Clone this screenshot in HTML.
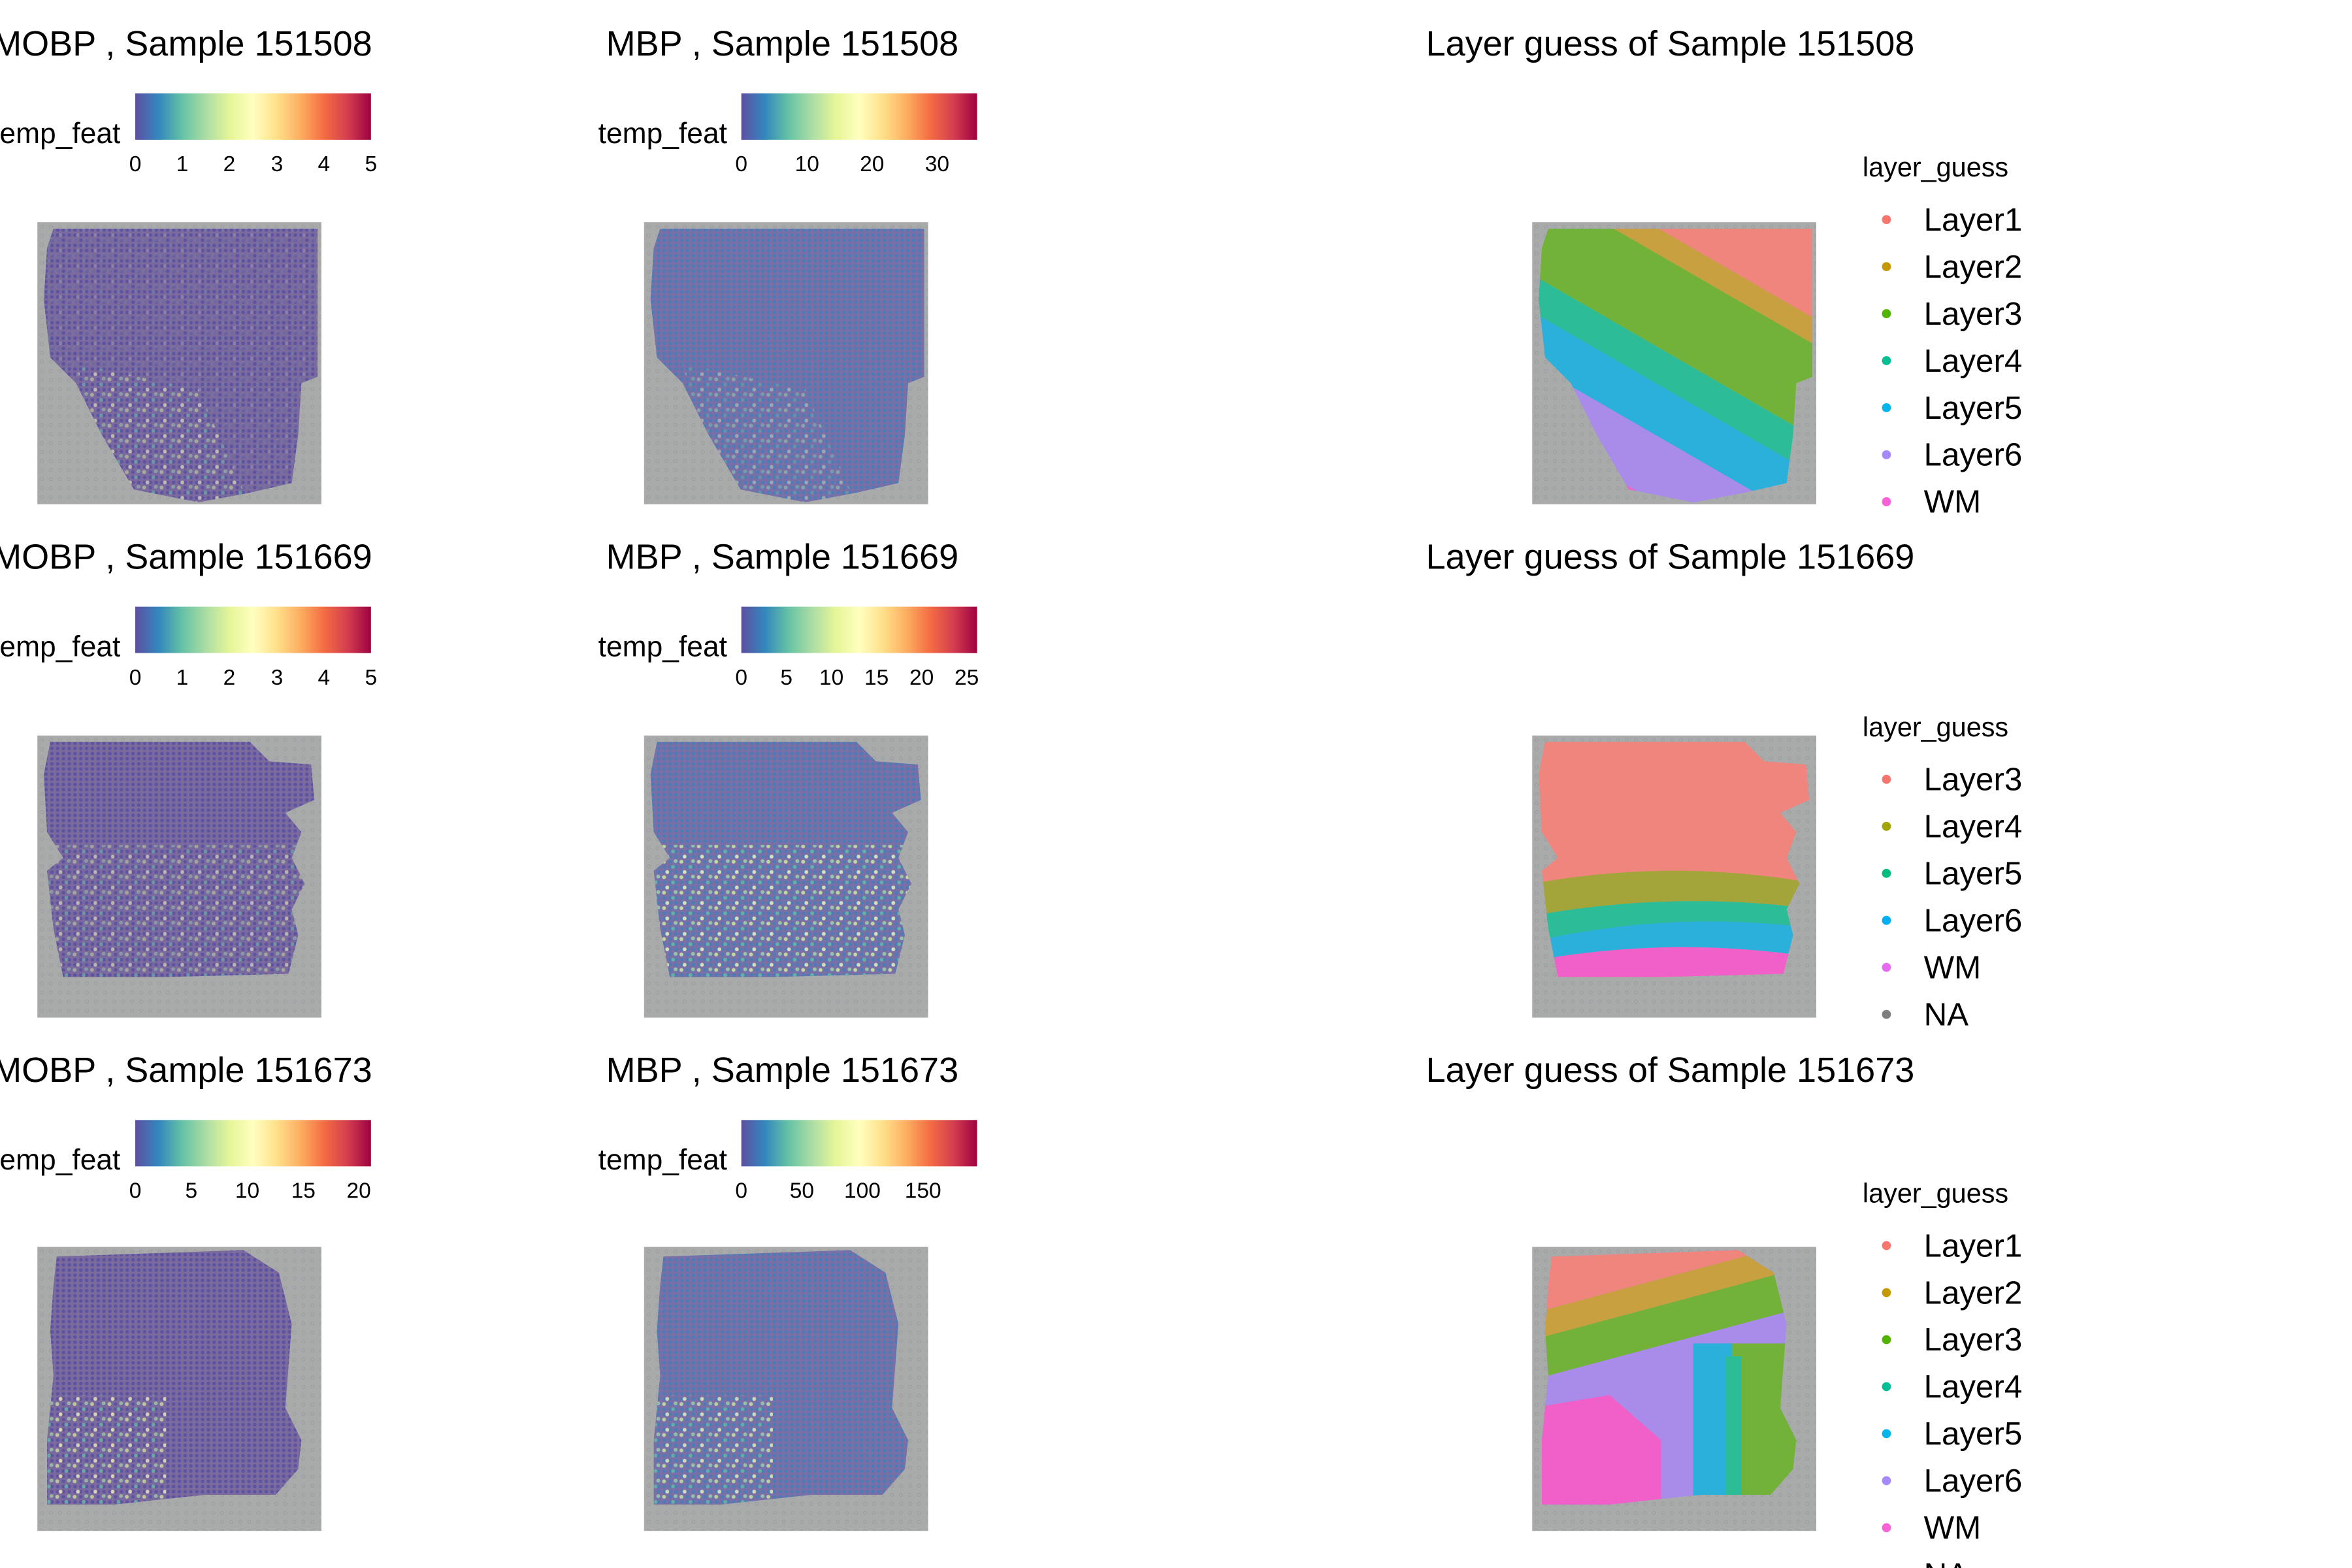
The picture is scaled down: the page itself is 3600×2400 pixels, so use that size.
<!DOCTYPE html>
<html><head><meta charset="utf-8"><style>
html,body{margin:0;padding:0;background:#fff}
svg{display:block}
text{font-family:"Liberation Sans",Arial,sans-serif;fill:#000}
</style></head><body>
<svg width="3600" height="2400" viewBox="0 0 3600 2400" xmlns="http://www.w3.org/2000/svg">
<defs>
<linearGradient id="spec" x1="0" x2="1" y1="0" y2="0">
<stop offset="0" stop-color="#5E4FA2"/><stop offset="0.1" stop-color="#3288BD"/><stop offset="0.2" stop-color="#66C2A5"/><stop offset="0.3" stop-color="#ABDDA4"/><stop offset="0.4" stop-color="#E6F598"/><stop offset="0.5" stop-color="#FFFFBF"/><stop offset="0.6" stop-color="#FEE08B"/><stop offset="0.7" stop-color="#FDAE61"/><stop offset="0.8" stop-color="#F46D43"/><stop offset="0.9" stop-color="#D53E4F"/><stop offset="1" stop-color="#9E0142"/>
</linearGradient>
<pattern id="dots" width="9" height="8" patternUnits="userSpaceOnUse"><rect width="9" height="8" fill="#7a6a9e"/><circle cx="4.5" cy="4" r="2.8" fill="#5e52a2"/></pattern>
<pattern id="dotsB" width="9" height="8" patternUnits="userSpaceOnUse"><rect width="9" height="8" fill="#7a6fa6"/><circle cx="4.5" cy="4" r="2.8" fill="#4c7cb6"/></pattern>
<pattern id="speck" width="27" height="24" patternUnits="userSpaceOnUse"><circle cx="4" cy="4" r="3" fill="#E6F598"/><circle cx="18" cy="12" r="3" fill="#66C2A5"/><circle cx="9" cy="20" r="3" fill="#FFFFBF"/><circle cx="22" cy="3" r="3" fill="#ABDDA4"/></pattern>
<pattern id="bg" width="14" height="14" patternUnits="userSpaceOnUse"><rect width="14" height="14" fill="#a9abab"/><circle cx="7" cy="7" r="2.5" fill="none" stroke="#9a9aa0" stroke-width="1"/></pattern>
<clipPath id="t1"><path d="M25,10 L435,10 L435,240 L410,250 L405,330 L395,405 L330,420 L250,435 L150,415 L100,330 L60,250 L20,210 L10,120 L15,40 Z"/></clipPath>
<clipPath id="t2"><path d="M20,10 L330,10 L360,40 L425,45 L430,100 L385,120 L410,150 L395,190 L415,230 L395,270 L405,310 L390,370 L200,375 L40,375 L25,300 L15,210 L40,190 L15,150 L10,60 Z"/></clipPath>
<clipPath id="t3"><path d="M30,15 L320,5 L375,40 L395,120 L385,250 L410,300 L405,345 L370,385 L260,385 L120,400 L15,400 L15,300 L25,200 L20,130 L25,60 Z"/></clipPath>
</defs>
<g transform="scale(0.9858)">
<g font-size="54.8">
<text x="-12" y="86">MOBP , Sample 151508</text>
<text x="941" y="86">MBP , Sample 151508</text>
<text x="2214" y="86">Layer guess of Sample 151508</text>
<text x="-12" y="883">MOBP , Sample 151669</text>
<text x="941" y="883">MBP , Sample 151669</text>
<text x="2214" y="883">Layer guess of Sample 151669</text>
<text x="-12" y="1680">MOBP , Sample 151673</text>
<text x="941" y="1680">MBP , Sample 151673</text>
<text x="2214" y="1680">Layer guess of Sample 151673</text>
</g>

<g font-size="45">
<text x="187" y="222" text-anchor="end">temp_feat</text>
<text x="1129" y="222" text-anchor="end">temp_feat</text>
<text x="187" y="1019" text-anchor="end">temp_feat</text>
<text x="1129" y="1019" text-anchor="end">temp_feat</text>
<text x="187" y="1816" text-anchor="end">temp_feat</text>
<text x="1129" y="1816" text-anchor="end">temp_feat</text>
</g>
<g>
<rect x="210" y="145" width="366" height="72" fill="url(#spec)"/>
<rect x="1151" y="145" width="366" height="72" fill="url(#spec)"/>
<rect x="210" y="942" width="366" height="72" fill="url(#spec)"/>
<rect x="1151" y="942" width="366" height="72" fill="url(#spec)"/>
<rect x="210" y="1739" width="366" height="72" fill="url(#spec)"/>
<rect x="1151" y="1739" width="366" height="72" fill="url(#spec)"/>
</g>
<g font-size="34" text-anchor="middle">
<text x="210" y="266">0</text><text x="283" y="266">1</text><text x="356" y="266">2</text><text x="430" y="266">3</text><text x="503" y="266">4</text><text x="576" y="266">5</text>
<text x="1151" y="266">0</text><text x="1253" y="266">10</text><text x="1354" y="266">20</text><text x="1455" y="266">30</text>
<text x="210" y="1063">0</text><text x="283" y="1063">1</text><text x="356" y="1063">2</text><text x="430" y="1063">3</text><text x="503" y="1063">4</text><text x="576" y="1063">5</text>
<text x="1151" y="1063">0</text><text x="1221" y="1063">5</text><text x="1291" y="1063">10</text><text x="1361" y="1063">15</text><text x="1431" y="1063">20</text><text x="1501" y="1063">25</text>
<text x="210" y="1860">0</text><text x="297" y="1860">5</text><text x="384" y="1860">10</text><text x="471" y="1860">15</text><text x="557" y="1860">20</text>
<text x="1151" y="1860">0</text><text x="1245" y="1860">50</text><text x="1339" y="1860">100</text><text x="1433" y="1860">150</text>
</g>

<g transform="translate(58,345)"><rect width="441" height="438" fill="url(#bg)"/><g clip-path="url(#t1)"><rect width="441" height="438" fill="url(#dots)"/><rect width="441" height="438" fill="url(#speck)" opacity="0.15"/><polygon points="60,220 250,260 330,438 120,438" fill="url(#speck)" opacity="0.45"/></g></g>
<g transform="translate(1000,345)"><rect width="441" height="438" fill="url(#bg)"/><g clip-path="url(#t1)"><rect width="441" height="438" fill="url(#dotsB)"/><polygon points="60,220 250,260 330,438 120,438" fill="url(#speck)" opacity="0.35"/></g></g>
<g transform="translate(2379,345)"><rect width="441" height="438" fill="url(#bg)"/>
<g clip-path="url(#t1)"><g transform="rotate(30 220 220)">
<rect x="-300" y="-300" width="1000" height="350" fill="#F0857E"/>
<rect x="-300" y="50" width="1000" height="35" fill="#C9A040"/>
<rect x="-300" y="85" width="1000" height="125" fill="#73B238"/>
<rect x="-300" y="210" width="1000" height="50" fill="#2CBC98"/>
<rect x="-300" y="260" width="1000" height="70" fill="#2BB0DC"/>
<rect x="-300" y="330" width="1000" height="90" fill="#A98BEA"/>
<rect x="-300" y="420" width="1000" height="400" fill="#F060C8"/>
</g></g></g>

<g transform="translate(58,1142)"><rect width="441" height="438" fill="url(#bg)"/><g clip-path="url(#t2)"><rect width="441" height="438" fill="url(#dots)"/><rect x="0" y="170" width="441" height="260" fill="url(#speck)" opacity="0.5"/></g></g>
<g transform="translate(1000,1142)"><rect width="441" height="438" fill="url(#bg)"/><g clip-path="url(#t2)"><rect width="441" height="438" fill="url(#dotsB)"/><rect x="0" y="170" width="441" height="260" fill="url(#speck)" opacity="0.75"/></g></g>
<g transform="translate(2379,1142)"><rect width="441" height="438" fill="url(#bg)"/>
<g clip-path="url(#t2)">
<rect width="441" height="230" fill="#F0857E"/>
<path d="M0,230 Q220,190 441,230 L441,270 Q220,240 0,280 Z" fill="#A3A53A"/>
<path d="M0,280 Q220,240 441,270 L441,300 Q220,270 0,320 Z" fill="#2CBC98"/>
<path d="M0,320 Q220,270 441,300 L441,345 Q220,310 0,350 Z" fill="#2BB0DC"/>
<path d="M0,350 Q220,310 441,345 L441,440 L0,440 Z" fill="#F060C8"/>
</g></g>

<g transform="translate(58,1936)"><rect width="441" height="441" fill="url(#bg)"/><g clip-path="url(#t3)"><rect width="441" height="441" fill="url(#dots)"/><rect x="0" y="230" width="200" height="200" fill="url(#speck)" opacity="0.7"/></g></g>
<g transform="translate(1000,1936)"><rect width="441" height="441" fill="url(#bg)"/><g clip-path="url(#t3)"><rect width="441" height="441" fill="url(#dotsB)"/><rect x="0" y="230" width="200" height="200" fill="url(#speck)" opacity="0.7"/></g></g>
<g transform="translate(2379,1936)"><rect width="441" height="441" fill="url(#bg)"/>
<g clip-path="url(#t3)">
<rect width="441" height="441" fill="#A98BEA"/>
<g transform="rotate(-15 220 220)">
<rect x="-200" y="-200" width="900" height="250" fill="#F0857E"/>
<rect x="-200" y="50" width="900" height="40" fill="#C9A040"/>
<rect x="-200" y="90" width="900" height="60" fill="#73B238"/>
</g>
<rect x="300" y="150" width="200" height="300" fill="#73B238"/>
<rect x="250" y="150" width="60" height="250" fill="#2BB0DC"/>
<rect x="300" y="170" width="25" height="220" fill="#2CBC98"/>
<polygon points="0,250 120,230 200,300 200,441 0,441" fill="#F060C8"/>
</g></g>

<g font-size="42">
<text x="2892" y="274">layer_guess</text>
<text x="2892" y="1143">layer_guess</text>
<text x="2892" y="1867">layer_guess</text>
</g>
<g font-size="50">
<circle cx="2929" cy="341" r="7" fill="#F8766D"/><text x="2987" y="358">Layer1</text>
<circle cx="2929" cy="414" r="7" fill="#C49A00"/><text x="2987" y="431">Layer2</text>
<circle cx="2929" cy="487" r="7" fill="#53B400"/><text x="2987" y="504">Layer3</text>
<circle cx="2929" cy="560" r="7" fill="#00C094"/><text x="2987" y="577">Layer4</text>
<circle cx="2929" cy="633" r="7" fill="#00B6EB"/><text x="2987" y="650">Layer5</text>
<circle cx="2929" cy="706" r="7" fill="#A58AFF"/><text x="2987" y="723">Layer6</text>
<circle cx="2929" cy="779" r="7" fill="#FB61D7"/><text x="2987" y="796">WM</text>

<circle cx="2929" cy="1210" r="7" fill="#F8766D"/><text x="2987" y="1227">Layer3</text>
<circle cx="2929" cy="1283" r="7" fill="#A3A500"/><text x="2987" y="1300">Layer4</text>
<circle cx="2929" cy="1356" r="7" fill="#00BF7D"/><text x="2987" y="1373">Layer5</text>
<circle cx="2929" cy="1429" r="7" fill="#00B0F6"/><text x="2987" y="1446">Layer6</text>
<circle cx="2929" cy="1502" r="7" fill="#E76BF3"/><text x="2987" y="1519">WM</text>
<circle cx="2929" cy="1575" r="7" fill="#7F7F7F"/><text x="2987" y="1592">NA</text>

<circle cx="2929" cy="1934" r="7" fill="#F8766D"/><text x="2987" y="1951">Layer1</text>
<circle cx="2929" cy="2007" r="7" fill="#C49A00"/><text x="2987" y="2024">Layer2</text>
<circle cx="2929" cy="2080" r="7" fill="#53B400"/><text x="2987" y="2097">Layer3</text>
<circle cx="2929" cy="2153" r="7" fill="#00C094"/><text x="2987" y="2170">Layer4</text>
<circle cx="2929" cy="2226" r="7" fill="#00B6EB"/><text x="2987" y="2243">Layer5</text>
<circle cx="2929" cy="2299" r="7" fill="#A58AFF"/><text x="2987" y="2316">Layer6</text>
<circle cx="2929" cy="2372" r="7" fill="#FB61D7"/><text x="2987" y="2389">WM</text>
<text x="2987" y="2462">NA</text>
</g>
</g>
</svg>
</body></html>
